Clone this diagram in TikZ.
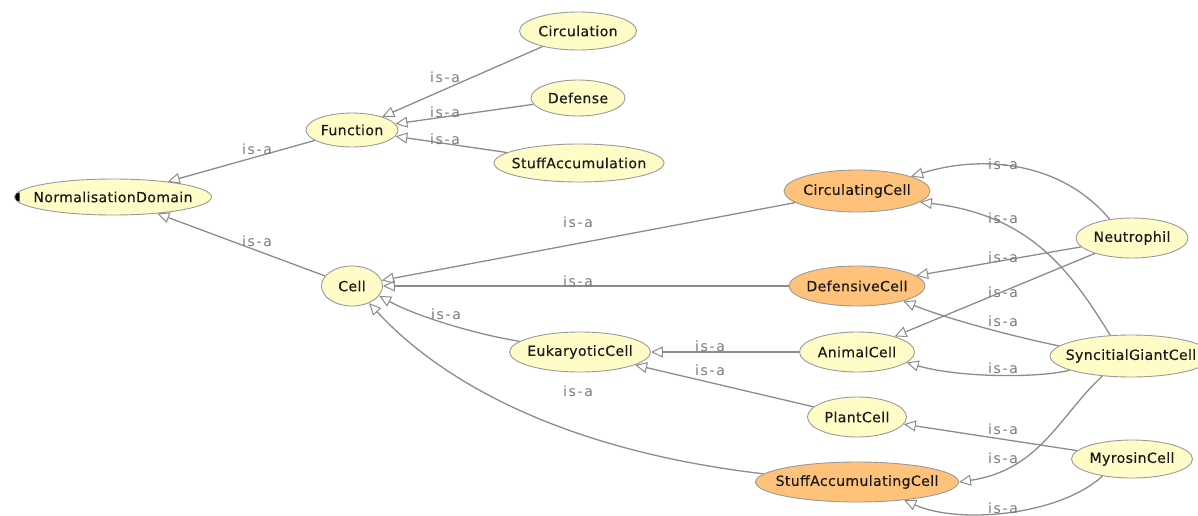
\documentclass[tikz,border=0pt]{standalone}
\usepackage{fontspec}
\setmainfont{DejaVu Sans}[LetterSpace=3.0]
\newfontfamily\nodefont{DejaVu Sans}[LetterSpace=3.0, FakeBold=0.4]
\usetikzlibrary{shapes.geometric,arrows.meta}
\definecolor{nodeyellow}{HTML}{FFFCC8}
\definecolor{nodeorange}{HTML}{FFC27A}
\definecolor{nodeborder}{HTML}{9A9A9A}
\definecolor{edgegray}{HTML}{8C8C8C}
\definecolor{labelgray}{HTML}{7A7A7A}
\definecolor{textdark}{HTML}{1A1A1A}
\tikzset{
  cls/.style 2 args={ellipse, draw=nodeborder, line width=0.9pt, fill=nodeyellow,
    minimum width=#1, minimum height=#2, inner sep=0pt, text=textdark,
    font=\nodefont\fontsize{14}{16}\selectfont,
    execute at begin node={\hbox to 0pt\bgroup\hss},
    execute at end node={\hss\egroup}},
  defcls/.style={fill=nodeorange},
  isa/.style={draw=edgegray, line width=1.3pt,
    -{Triangle[open, length=12pt, width=11pt, line width=1pt]}},
  lbl/.style={text=labelgray, inner sep=0pt,
    font=\fontsize{14}{16}\selectfont\addfontfeature{LetterSpace=12.0}},
}
\begin{document}
\begin{tikzpicture}[x=1pt,y=-1pt]
\useasboundingbox (0,0) rectangle (1198,516);
\clip (0,0) rectangle (1198,516);
\fill[white] (0,0) rectangle (1198,516);
% nodes
\node[cls={197}{36}] (ND) at (113,197) {NormalisationDomain};
\node[cls={92}{34}] (Function) at (352,130) {Function};
\node[cls={117}{38}] (Circulation) at (578,31) {Circulation};
\node[cls={94}{36}] (Defense) at (578,98) {Defense};
\node[cls={170}{38}] (StuffAcc) at (579,163) {StuffAccumulation};
\node[cls={61}{40}] (Cell) at (352,286) {Cell};
\node[cls={146}{42}, defcls] (CC) at (857,191) {CirculatingCell};
\node[cls={136}{40}, defcls] (DC) at (857,286) {DefensiveCell};
\node[cls={141}{40}] (Euk) at (580,352) {EukaryoticCell};
\node[cls={115}{40}] (AC) at (857,352) {AnimalCell};
\node[cls={99}{40}] (PC) at (857,417) {PlantCell};
\node[cls={203}{40}, defcls] (SAC) at (857,482) {StuffAccumulatingCell};
\node[cls={112}{40}] (Neu) at (1132,238) {Neutrophil};
\node[cls={162}{42}] (SGC) at (1131,356) {SyncitialGiantCell};
\node[cls={121}{38}] (MC) at (1132,459) {MyrosinCell};
% marker on NormalisationDomain
\fill[black] ([xshift=5.5pt]ND.west) ++(0,-4.5) arc[start angle=270, end angle=90, radius=4.5] -- cycle;
% edges
\draw[isa] (Function) -- (ND);
\draw[isa] (Cell) -- (ND);
\draw[isa] (Circulation) -- (Function);
\draw[isa] (Defense) -- (Function);
\draw[isa] (StuffAcc) -- (Function);
\draw[isa] (CC) -- (Cell);
\draw[isa] (DC) -- (Cell);
\draw[isa] (Euk.170) .. controls (480,335) and (420,318) .. (Cell.-20);
\draw[isa] (SAC.175) .. controls (560,450) and (440,380) .. (Cell.-45);
\draw[isa] (AC) -- (Euk);
\draw[isa] (PC) -- (Euk);
\draw[isa] (Neu.140) .. controls (1060,160) and (980,155) .. (CC.15);
\draw[isa] (SGC.135) .. controls (1070,270) and (1030,215) .. (CC.-10);
\draw[isa] (Neu) -- (DC);
\draw[isa] (Neu) -- (AC);
\draw[isa] (SGC.172) .. controls (1020,338) and (950,320) .. (DC.-18);
\draw[isa] (SGC.-167) .. controls (1040,378) and (960,378) .. (AC.-12);
\draw[isa] (MC) -- (PC);
\draw[isa] (SGC.-145) .. controls (1060,415) and (1040,470) .. (SAC.east);
\draw[isa] (MC.-150) .. controls (1060,515) and (960,525) .. (SAC.-21);
% labels
\node[lbl] (l1) at (257,149) {is-a};
\node[lbl] (l2) at (257,241) {is-a};
\node[lbl] (l3) at (445,77) {is-a};
\node[lbl] (l4) at (445,112) {is-a};
\node[lbl] (l5) at (445,139) {is-a};
\node[lbl] (l6) at (578,222) {is-a};
\node[lbl] (l7) at (578,281) {is-a};
\node[lbl] (l8) at (446,314) {is-a};
\node[lbl] (l9) at (578,391) {is-a};
\node[lbl] (l10) at (710,346) {is-a};
\node[lbl] (l11) at (710,370) {is-a};
\node[lbl] (l12) at (1003,164) {is-a};
\node[lbl] (l13) at (1003,218) {is-a};
\node[lbl] (l14) at (1003,257) {is-a};
\node[lbl] (l15) at (1003,292) {is-a};
\node[lbl] (l16) at (1003,321) {is-a};
\node[lbl] (l17) at (1003,368) {is-a};
\node[lbl] (l18) at (1003,429) {is-a};
\node[lbl] (l19) at (1003,458) {is-a};
\node[lbl] (l20) at (1003,508) {is-a};
\end{tikzpicture}
\end{document}
